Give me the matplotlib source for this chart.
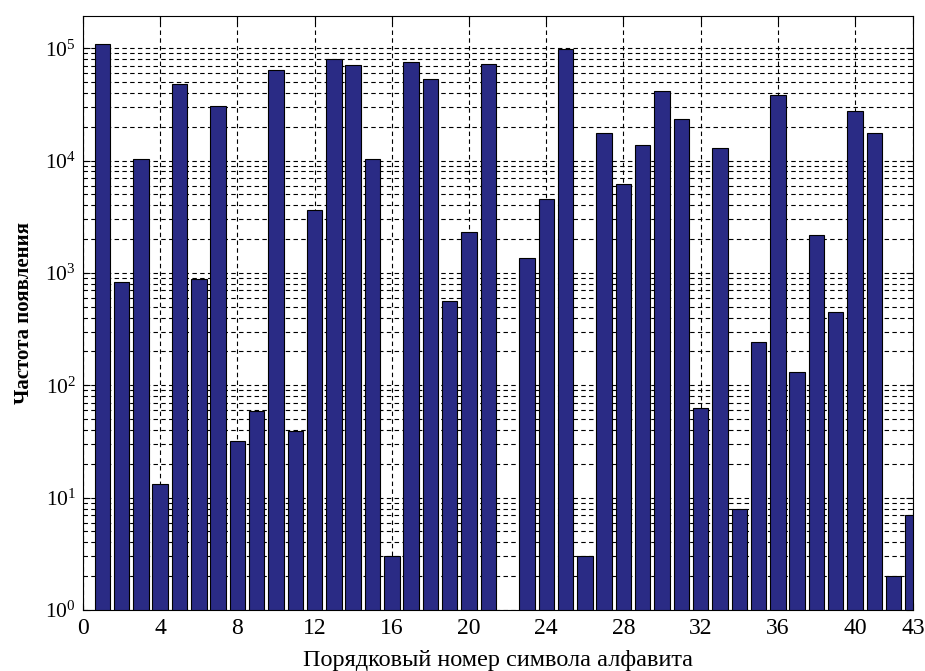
import math
import matplotlib
matplotlib.use("Agg")
import matplotlib.pyplot as plt
from matplotlib.ticker import FixedLocator, LogLocator, FuncFormatter, NullFormatter

plt.rcParams['font.family'] = ['Liberation Serif', 'DejaVu Serif']
plt.rcParams['mathtext.fontset'] = 'custom'
plt.rcParams['mathtext.rm'] = 'Liberation Serif'

symbols = list(range(1, 44))
counts = [110000, 830, 10350, 13.2, 48500, 890, 30700, 32, 58.6, 63400,
          39.4, 3620, 80900, 70600, 10360, 3, 75000, 53700, 561, 2320,
          73100, 0, 1360, 4510, 98000, 3, 17650, 6170, 13700, 41700,
          23400, 62.3, 12970, 7.9, 244, 38200, 132, 2170, 448, 27500,
          17650, 2, 7]
xticks = [0, 4, 8, 12, 16, 20, 24, 28, 32, 36, 40, 43]
xlabel = 'Порядковый номер символа алфавита'
ylabel = 'Частота появления'

fig = plt.figure(figsize=(9.25, 6.71), dpi=100)
ax = fig.add_axes([0.0897, 0.0909, 0.8973, 0.885])
ax.set_yscale('log')
ax.set_axisbelow(True)
ax.bar(symbols, counts, width=0.8, color='#2a2b85', edgecolor='black', linewidth=0.8, zorder=2)
ax.set_xlim(0, 43)
ax.set_ylim(1, 1.93e5)
ax.xaxis.set_major_locator(FixedLocator(xticks))
ax.yaxis.set_major_locator(LogLocator(base=10, numticks=10))
ax.yaxis.set_minor_locator(LogLocator(base=10, subs=range(2, 10), numticks=20))
ax.yaxis.set_minor_formatter(NullFormatter())
ax.yaxis.set_major_formatter(FuncFormatter(lambda v, p: r'$\mathregular{10^{%d}}$' % round(math.log10(v))))
ax.grid(True, which='major', axis='both', color='black', linestyle=(0, (4, 3)), linewidth=0.8)
ax.grid(True, which='minor', axis='y', color='black', linestyle=(0, (4, 3)), linewidth=0.8)
ax.tick_params(which='both', direction='in', top=True, right=True)
ax.tick_params(axis='x', labelsize=17, pad=6)
ax.tick_params(axis='y', labelsize=15.5, pad=5)
ax.tick_params(which='major', length=5)
ax.tick_params(which='minor', length=3)
for s in ax.spines.values():
    s.set_linewidth(0.8)
ax.set_xlabel(xlabel, fontsize=17.5, labelpad=8)
ax.set_ylabel(ylabel, fontsize=15, fontweight='bold', labelpad=8)
fig.savefig('out.png', dpi=100)
